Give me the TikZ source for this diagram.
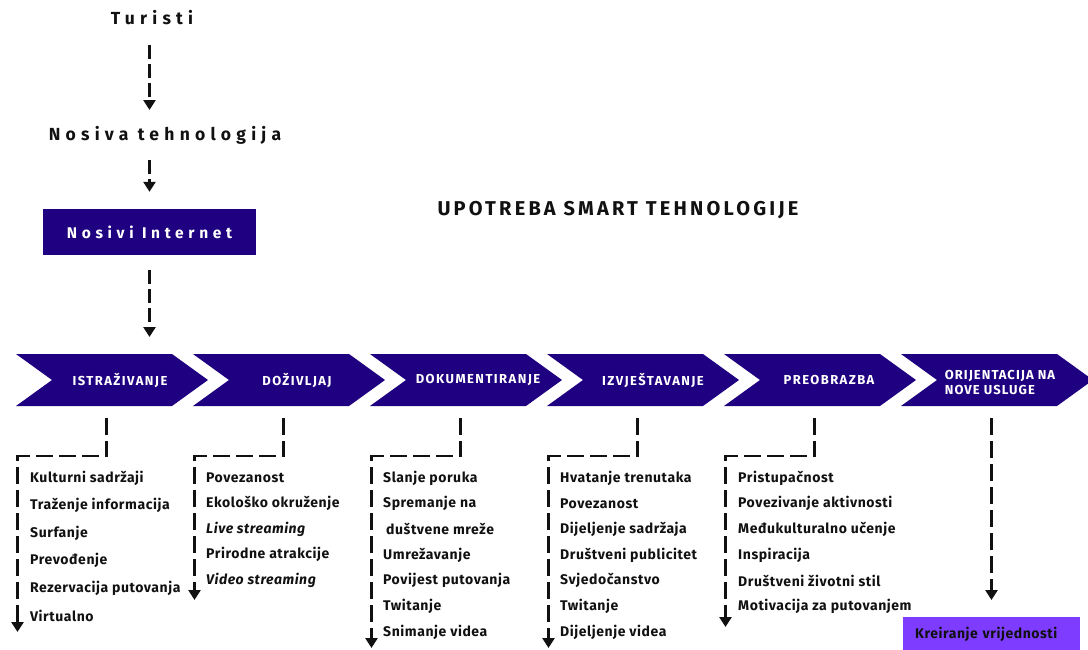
\documentclass[tikz,border=0pt]{standalone}
\usepackage{fontspec}
\setmainfont{Fira Sans}
\usetikzlibrary{arrows.meta}
\definecolor{indigo}{RGB}{31,0,128}
\definecolor{violetbox}{RGB}{125,60,255}
\definecolor{ink}{RGB}{17,17,17}
\newcommand{\itemfont}{\fontsize{14}{16}\selectfont\bfseries\addfontfeature{LetterSpace=4}}
\tikzset{
  dashconn/.style={draw=ink, line width=2.5pt, dash pattern=on 17pt off 6pt,
    -{Triangle[width=12pt,length=10pt]}},
  item/.style={anchor=west, inner sep=0pt, text=ink, font=\itemfont},
  chevtext/.style={text=white, inner sep=0pt,
    font=\fontsize{13}{15}\selectfont\bfseries\addfontfeature{LetterSpace=11}},
  spaced/.style={text=ink, inner sep=0pt,
    font=\fontsize{17.5}{20}\selectfont\bfseries\addfontfeature{LetterSpace=30}},
}
\begin{document}
\begin{tikzpicture}[x=1pt,y=-1pt]
\clip (0,0) rectangle (1088,649);
\fill[white] (0,0) rectangle (1088,649);

% top chain
\node[spaced] (tur) at (152,18) {Turisti};
\node[spaced] (nt) at (165,135) {Nosiva tehnologija};
\node[fill=indigo, minimum width=213pt, minimum height=46pt, inner sep=0pt,
  text=white, font=\fontsize{15.5}{18}\selectfont\bfseries\addfontfeature{LetterSpace=30}]
  (ni) at (149.5,232) {Nosivi Internet};
\node[text=ink, inner sep=0pt,
  font=\fontsize{20}{24}\selectfont\bfseries\addfontfeature{LetterSpace=16}]
  (title) at (618,210) {UPOTREBA SMART TEHNOLOGIJE};

% chevrons
\foreach \i/\xo in {1/16,2/193,3/370,4/547,5/724,6/901}{
  \fill[indigo] (\xo,354) -- (\xo+156,354) -- (\xo+192,380) -- (\xo+156,406)
    -- (\xo,406) -- (\xo+36,380) -- cycle;
  \coordinate (ch\i-b) at (\xo+90.5,418);
}
\node[chevtext] (t1) at (120,380) {ISTRAŽIVANJE};
\node[chevtext] (t2) at (297,380) {DOŽIVLJAJ};
\node[chevtext] (t3) at (478,380) {DOKUMENTIRANJE};
\node[chevtext] (t4) at (653,380) {IZVJEŠTAVANJE};
\node[chevtext] (t5) at (829,380) {PREOBRAZBA};
\node[chevtext, align=left, font=\fontsize{13}{15}\selectfont\bfseries\addfontfeature{LetterSpace=8}]
  (t6) at (1000,382) {ORIJENTACIJA NA\\NOVE USLUGE};

% top arrows
\coordinate (c1top) at (149.5,354);
\draw[dashconn, dash pattern=on 14pt off 5pt, shorten <=27pt, shorten >=25pt]
  (tur.center -| ni.center) -- (nt.center -| ni.center);
\draw[dashconn, dash pattern=on 14pt off 5pt, shorten <=25pt, shorten >=17pt]
  (nt.center -| ni.center) -- (ni.north);
\draw[dashconn, dash pattern=on 14pt off 5pt, shorten <=15pt, shorten >=17pt]
  (ni.south) -- (c1top);

% item lists
\foreach \t [count=\k] in {Kulturni sadržaji, Traženje informacija, Surfanje,
  Prevođenje, Rezervacija putovanja, Virtualno}
  \node[item] (a\k) at (30,478+27.6*\k-27.6) {\t};
\foreach \t [count=\k] in {Povezanost, Ekološko okruženje, \textit{Live streaming},
  Prirodne atrakcije, \textit{Video streaming}}
  \node[item] (b\k) at (206,478+25.5*\k-25.5) {\t};
\foreach \t [count=\k] in {Slanje poruka, Spremanje na, \hspace{3pt}duštvene mreže,
  Umrežavanje, Povijest putovanja, Twitanje, Snimanje videa}
  \node[item] (c\k) at (383,478+25.7*\k-25.7) {\t};
\foreach \t [count=\k] in {Hvatanje trenutaka, Povezanost, Dijeljenje sadržaja,
  Društveni publicitet, Svjedočanstvo, Twitanje, Dijeljenje videa}
  \node[item] (d\k) at (560,478+25.7*\k-25.7) {\t};
\foreach \t [count=\k] in {Pristupačnost, Povezivanje aktivnosti,
  Međukulturalno učenje, Inspiracija, Društveni životni stil,
  Motivacija za putovanjem}
  \node[item] (e\k) at (738,478+25.7*\k-25.7) {\t};

% value box
\node[fill=violetbox, anchor=north west, minimum width=177pt, minimum height=34pt,
  inner xsep=12pt, inner ysep=0pt, text width=153pt, align=left, text=ink,
  font=\itemfont] (kv) at (903,617) {Kreiranje vrijednosti};

% branch connectors
\path (ch1-b) ++(-89,38) coordinate (ch1-l) ++(0,176) coordinate (ch1-e);
\path (ch2-b) ++(-89,38) coordinate (ch2-l) ++(0,144) coordinate (ch2-e);
\path (ch3-b) ++(-89,38) coordinate (ch3-l) ++(0,192) coordinate (ch3-e);
\path (ch4-b) ++(-89,38) coordinate (ch4-l) ++(0,192) coordinate (ch4-e);
\path (ch5-b) ++(-89,38) coordinate (ch5-l) ++(0,171) coordinate (ch5-e);
\foreach \i in {1,...,5}
  \draw[dashconn] (ch\i-b) |- (ch\i-l) -- (ch\i-e);
\draw[dashconn, shorten >=17pt] (ch6-b) -- (kv.north -| ch6-b);
\end{tikzpicture}
\end{document}
